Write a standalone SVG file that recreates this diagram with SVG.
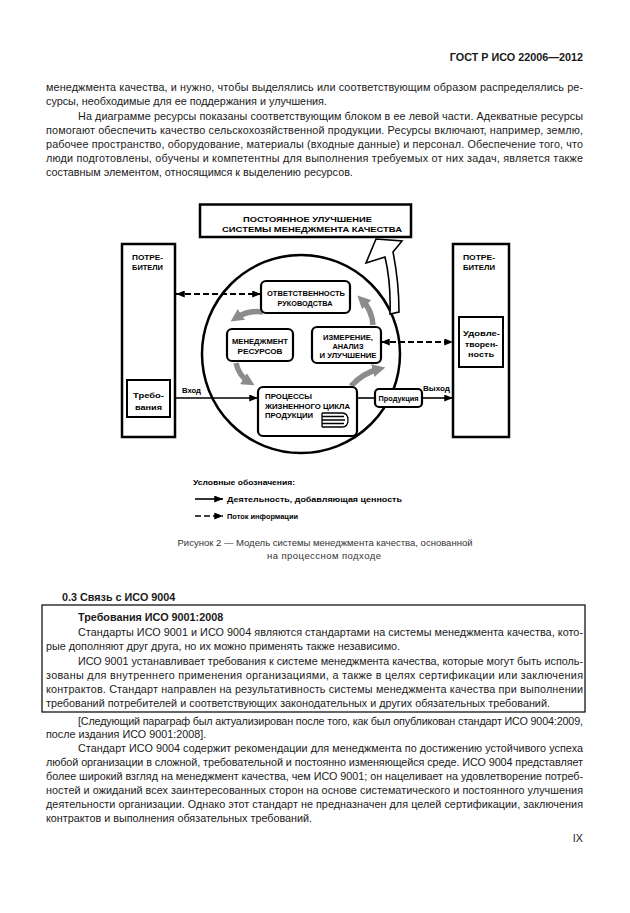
<svg xmlns="http://www.w3.org/2000/svg" width="630" height="913" viewBox="0 0 630 913">
<defs>
<style>
.t{font-family:"Liberation Sans",Arial,sans-serif;font-size:10.8px;fill:#1a1a1a}
.b{font-weight:bold}
.d{font-family:"Liberation Sans",Arial,sans-serif;font-weight:bold;font-size:7.5px;fill:#000}
.box{fill:#fff;stroke:#000;stroke-width:2.5}
.rbox{fill:#fff;stroke:#000;stroke-width:2.2}
.flow{fill:none;stroke:#000;stroke-width:1.6}
.info{fill:none;stroke:#000;stroke-width:2;stroke-dasharray:6 3}
.grey{fill:none;stroke:#8c8c8c;stroke-width:5.5}
.cap{font-family:"Liberation Sans",Arial,sans-serif;font-size:9.5px;fill:#333}
</style>
<marker id="ah" viewBox="0 0 10 8" refX="10" refY="4" markerWidth="9" markerHeight="7" markerUnits="userSpaceOnUse" orient="auto-start-reverse"><path d="M0,0 L10,4 L0,8 z" fill="#000"/></marker>
<marker id="gh" viewBox="0 0 10 10" refX="5" refY="5" markerWidth="13" markerHeight="13" markerUnits="userSpaceOnUse" orient="auto"><path d="M0,0 L10,5 L0,10 z" fill="#8c8c8c"/></marker>
</defs>
<rect width="630" height="913" fill="#fff"/>

<g id="page-text">
<text class="t b" x="583" y="61" text-anchor="end" font-size="12">ГОСТ Р ИСО 22006—2012</text>
<text class="t" x="46" y="91" textLength="537" lengthAdjust="spacing">менеджмента качества, и нужно, чтобы выделялись или соответствующим образом распределялись ре-</text>
<text class="t" x="46" y="105">сурсы, необходимые для ее поддержания и улучшения.</text>
<text class="t" x="78" y="120" textLength="505" lengthAdjust="spacing">На диаграмме ресурсы показаны соответствующим блоком в ее левой части. Адекватные ресурсы</text>
<text class="t" x="46" y="134" textLength="537" lengthAdjust="spacing">помогают обеспечить качество сельскохозяйственной продукции. Ресурсы включают, например, землю,</text>
<text class="t" x="46" y="148" textLength="537" lengthAdjust="spacing">рабочее пространство, оборудование, материалы (входные данные) и персонал. Обеспечение того, что</text>
<text class="t" x="46" y="162" textLength="537" lengthAdjust="spacing">люди подготовлены, обучены и компетентны для выполнения требуемых от них задач, является также</text>
<text class="t" x="46" y="176">составным элементом, относящимся к выделению ресурсов.</text>

<text class="cap" x="325" y="546" text-anchor="middle" textLength="295" lengthAdjust="spacing">Рисунок 2 — Модель системы менеджмента качества, основанной</text>
<text class="cap" x="324" y="559" text-anchor="middle" textLength="114" lengthAdjust="spacing">на процессном подходе</text>

<text class="t b" x="62" y="601">0.3 Связь с ИСО 9004</text>
<rect x="42" y="605" width="543" height="107" fill="none" stroke="#000" stroke-width="1.2"/>
<text class="t b" x="78" y="621">Требования ИСО 9001:2008</text>
<text class="t" x="78" y="636" textLength="505" lengthAdjust="spacing">Стандарты ИСО 9001 и ИСО 9004 являются стандартами на системы менеджмента качества, кото-</text>
<text class="t" x="46" y="650">рые дополняют друг друга, но их можно применять также независимо.</text>
<text class="t" x="78" y="665" textLength="505" lengthAdjust="spacing">ИСО 9001 устанавливает требования к системе менеджмента качества, которые могут быть исполь-</text>
<text class="t" x="46" y="679" textLength="537" lengthAdjust="spacing">зованы для внутреннего применения организациями, а также в целях сертификации или заключения</text>
<text class="t" x="46" y="693" textLength="537" lengthAdjust="spacing">контрактов. Стандарт направлен на результативность системы менеджмента качества при выполнении</text>
<text class="t" x="46" y="707">требований потребителей и соответствующих законодательных и других обязательных требований.</text>

<text class="t" x="78" y="725" textLength="505" lengthAdjust="spacing">[Следующий параграф был актуализирован после того, как был опубликован стандарт ИСО 9004:2009,</text>
<text class="t" x="46" y="738">после издания ИСО 9001:2008].</text>
<text class="t" x="78" y="752" textLength="505" lengthAdjust="spacing">Стандарт ИСО 9004 содержит рекомендации для менеджмента по достижению устойчивого успеха</text>
<text class="t" x="46" y="766" textLength="537" lengthAdjust="spacing">любой организации в сложной, требовательной и постоянно изменяющейся среде. ИСО 9004 представляет</text>
<text class="t" x="46" y="780" textLength="537" lengthAdjust="spacing">более широкий взгляд на менеджмент качества, чем ИСО 9001; он нацеливает на удовлетворение потреб-</text>
<text class="t" x="46" y="794" textLength="537" lengthAdjust="spacing">ностей и ожиданий всех заинтересованных сторон на основе систематического и постоянного улучшения</text>
<text class="t" x="46" y="808" textLength="537" lengthAdjust="spacing">деятельности организации. Однако этот стандарт не предназначен для целей сертификации, заключения</text>
<text class="t" x="46" y="822">контрактов и выполнения обязательных требований.</text>
<text class="t" x="583" y="842" text-anchor="end">IX</text>
</g>

<g id="cycle">
<circle cx="301" cy="354" r="99" fill="none" stroke="#000" stroke-width="2.5"/>
</g>

<g id="connectors">
<line class="flow" x1="170" y1="398" x2="258" y2="398" marker-end="url(#ah)"/>
<line class="flow" x1="357" y1="398" x2="375" y2="398"/>
<line class="flow" x1="422" y1="398" x2="453" y2="398" marker-end="url(#ah)"/>
<line class="info" x1="176" y1="294" x2="261" y2="294" marker-start="url(#ah)" marker-end="url(#ah)"/>
<line class="info" x1="381" y1="342" x2="453" y2="342" marker-start="url(#ah)" marker-end="url(#ah)"/>
<path class="grey" d="M263 312 Q248 310 236 318" marker-end="url(#gh)"/>
<path class="grey" d="M236 363 Q239 376 249 382" marker-end="url(#gh)"/>
<path class="grey" d="M351 386 Q363 373 379 369" marker-end="url(#gh)"/>
<path class="grey" d="M373 325 Q372 310 362 300" marker-end="url(#gh)"/>
<path d="M390 314 Q391 282 385 257 L366 263 L376 239 L402 241 L393 252 Q399 282 399 312 Z" fill="#fff" stroke="#000" stroke-width="1.6" stroke-linejoin="miter"/>
<text class="d" x="182" y="393" textLength="19" lengthAdjust="spacingAndGlyphs">Вход</text>
<text class="d" x="423" y="391" textLength="27" lengthAdjust="spacingAndGlyphs">Выход</text>
</g>

<g id="improvement">
<rect class="box" x="200" y="204.5" width="211" height="32.5"/>
<text class="d" x="243" y="222" textLength="129" lengthAdjust="spacingAndGlyphs">ПОСТОЯННОЕ УЛУЧШЕНИЕ</text>
<text class="d" x="222" y="231.5" textLength="180" lengthAdjust="spacingAndGlyphs">СИСТЕМЫ МЕНЕДЖМЕНТА КАЧЕСТВА</text>
</g>

<g id="customers-left">
<rect class="box" x="122" y="244" width="53" height="193"/>
<text class="d" x="132" y="260" textLength="31" lengthAdjust="spacingAndGlyphs">ПОТРЕ-</text>
<text class="d" x="132" y="270" textLength="31" lengthAdjust="spacingAndGlyphs">БИТЕЛИ</text>
</g>
<g id="requirements">
<rect x="127" y="380" width="43" height="37" fill="#fff" stroke="#000" stroke-width="2"/>
<text class="d" x="133" y="398" textLength="31" lengthAdjust="spacingAndGlyphs" font-size="8.5">Требо-</text>
<text class="d" x="135" y="410" textLength="27" lengthAdjust="spacingAndGlyphs">вания</text>
</g>

<g id="customers-right">
<rect class="box" x="453" y="244" width="56" height="193"/>
<text class="d" x="463" y="260" textLength="32" lengthAdjust="spacingAndGlyphs">ПОТРЕ-</text>
<text class="d" x="463" y="270" textLength="32" lengthAdjust="spacingAndGlyphs">БИТЕЛИ</text>
</g>
<g id="satisfaction">
<rect x="459" y="317" width="44" height="50" fill="#fff" stroke="#000" stroke-width="2"/>
<text class="d" x="463" y="336" textLength="37" lengthAdjust="spacingAndGlyphs">Удовле-</text>
<text class="d" x="465" y="347" textLength="33" lengthAdjust="spacingAndGlyphs">творен-</text>
<text class="d" x="468" y="357" textLength="26" lengthAdjust="spacingAndGlyphs">ность</text>
</g>

<g id="management">
<rect class="rbox" x="261" y="281" width="89" height="32" rx="5"/>
<text class="d" x="306" y="296" text-anchor="middle" textLength="78" lengthAdjust="spacingAndGlyphs" font-size="6.5">ОТВЕТСТВЕННОСТЬ</text>
<text class="d" x="305" y="306" text-anchor="middle" textLength="55" lengthAdjust="spacingAndGlyphs" font-size="6.5">РУКОВОДСТВА</text>
</g>
<g id="resources">
<rect class="rbox" x="227" y="329" width="66" height="32" rx="5"/>
<text class="d" x="260" y="344" text-anchor="middle" textLength="56" lengthAdjust="spacingAndGlyphs" font-size="6.5">МЕНЕДЖМЕНТ</text>
<text class="d" x="260" y="354" text-anchor="middle" textLength="45" lengthAdjust="spacingAndGlyphs" font-size="6.5">РЕСУРСОВ</text>
</g>
<g id="measurement">
<rect class="rbox" x="312" y="327" width="69" height="36" rx="5"/>
<text class="d" x="348" y="340" text-anchor="middle" textLength="50" lengthAdjust="spacingAndGlyphs" font-size="6.5">ИЗМЕРЕНИЕ,</text>
<text class="d" x="348" y="349" text-anchor="middle" textLength="31" lengthAdjust="spacingAndGlyphs" font-size="6.5">АНАЛИЗ</text>
<text class="d" x="348" y="358" text-anchor="middle" textLength="57" lengthAdjust="spacingAndGlyphs" font-size="6.5">И УЛУЧШЕНИЕ</text>
</g>
<g id="realization">
<rect class="rbox" x="258" y="387" width="99" height="49" rx="5"/>
<text class="d" x="265" y="399" textLength="47" lengthAdjust="spacingAndGlyphs" font-size="7">ПРОЦЕССЫ</text>
<text class="d" x="265" y="409" textLength="85" lengthAdjust="spacingAndGlyphs" font-size="7">ЖИЗНЕННОГО ЦИКЛА</text>
<text class="d" x="265" y="418" textLength="48" lengthAdjust="spacingAndGlyphs" font-size="7">ПРОДУКЦИИ</text>
<path d="M322 413 L342 413 Q348 413 348 420 Q348 427 342 427 L322 427 M322 416.5 L344 416.5 M322 420 L345 420 M322 423.5 L344 423.5 M322 413 L322 427" fill="none" stroke="#000" stroke-width="1.3"/>
</g>
<g id="product">
<rect class="rbox" x="375" y="389" width="47" height="18" rx="4" stroke-width="1.8"/>
<text class="d" x="398.5" y="401" text-anchor="middle" textLength="40" lengthAdjust="spacingAndGlyphs" font-size="7">Продукция</text>
</g>

<g id="legend">
<text class="d" x="193" y="485" textLength="102" lengthAdjust="spacingAndGlyphs" font-size="8">Условные обозначения:</text>
<line class="flow" x1="195" y1="499" x2="223" y2="499" marker-end="url(#ah)"/>
<text class="d" x="227" y="502" textLength="175" lengthAdjust="spacingAndGlyphs" font-size="7.5">Деятельность, добавляющая ценность</text>
<line x1="195" y1="516" x2="223" y2="516" stroke="#000" stroke-width="1.6" stroke-dasharray="6 3" marker-end="url(#ah)"/>
<text class="d" x="227" y="519" textLength="71" lengthAdjust="spacingAndGlyphs" font-size="7.5">Поток информации</text>
</g>
</svg>
